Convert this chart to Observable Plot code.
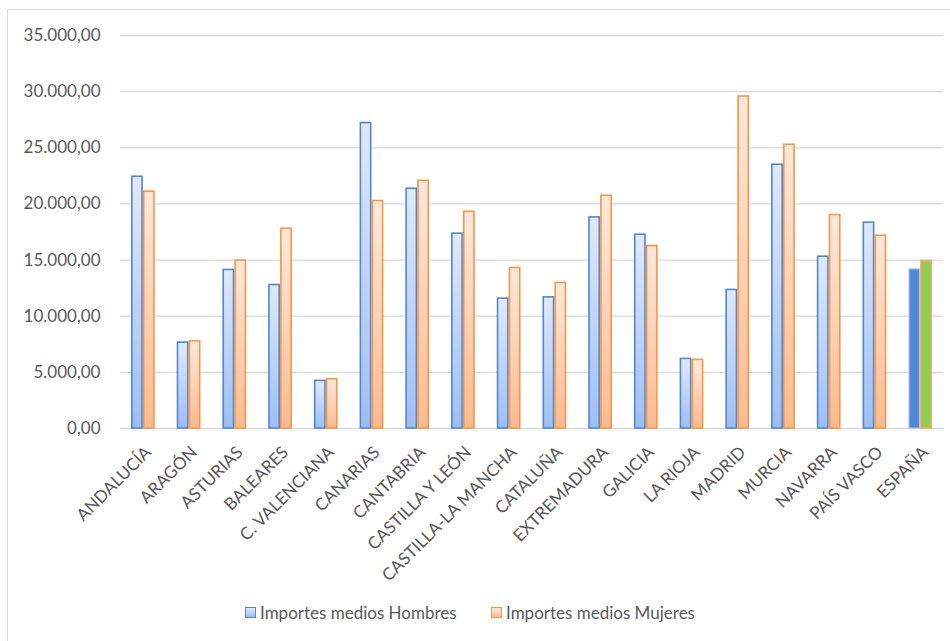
<!DOCTYPE html>
<html><head><meta charset="utf-8">
<script src="https://cdn.jsdelivr.net/npm/d3@7"></script>
<script src="https://cdn.jsdelivr.net/npm/@observablehq/plot@0.6"></script>
<style>
body{margin:0;background:#fff;overflow:hidden;font-family:Lato,sans-serif;}
#wrap{position:relative;width:950px;height:641px;overflow:hidden;}
#frame{position:absolute;left:7px;top:9px;width:1000px;height:700px;border:1.5px solid #d9d9d9;box-sizing:border-box;pointer-events:none;}
#chart{position:absolute;left:0;top:0;}
.item{position:absolute;top:602px;display:flex;align-items:center;font-size:17px;color:#595959;white-space:nowrap;}
.sw{width:9px;height:9px;margin-right:4px;border:1.5px solid;}
</style></head>
<body>
<div id="wrap">
  <div id="chart"></div>
  <div id="frame"></div>
  <div class="item" style="left:245px"><span class="sw" style="border-color:#4f86d6;background:linear-gradient(#e1e9fa,#9ebef2)"></span>Importes medios Hombres</div>
  <div class="item" style="left:491px"><span class="sw" style="border-color:#f79646;background:linear-gradient(#fee8dc,#fbbb90)"></span>Importes medios Mujeres</div>
</div>
<script>
const regiones = ["ANDALUCÍA","ARAGÓN","ASTURIAS","BALEARES","C. VALENCIANA","CANARIAS","CANTABRIA","CASTILLA Y LEÓN","CASTILLA-LA MANCHA","CATALUÑA","EXTREMADURA","GALICIA","LA RIOJA","MADRID","MURCIA","NAVARRA","PAÍS VASCO","ESPAÑA"];
const hombres = [22420,7650,14120,12780,4240,27200,21350,17350,11570,11680,18800,17260,6200,12340,23490,15300,18330,14170];
const mujeres = [21090,7770,14950,17790,4390,20260,22060,19300,14300,12960,20730,16250,6110,29570,25270,19010,17170,14920];
const yTicks = [0,5000,10000,15000,20000,25000,30000,35000];

const W = 950, ML = 120, MR = 7;
const pInner = 0.48, pOuter = 0.24;
const step = (W - ML - MR) / (regiones.length - pInner + 2 * pOuter);
const bw = step * (1 - pInner);
const half = bw / 2;

const rows = regiones.map((r, i) => ({region: r, h: hombres[i], m: mujeres[i]}));
const regs = rows.filter(d => d.region !== "ESPAÑA");
const esp = rows.filter(d => d.region === "ESPAÑA");

const locale = d3.formatLocale({decimal: ",", thousands: ".", grouping: [3], currency: ["", "€"]});
const fmt = locale.format(",.2f");

const svg = Plot.plot({
  width: W, height: 590,
  marginLeft: ML, marginRight: MR, marginTop: 35, marginBottom: 162,
  style: {color: "#595959", fontFamily: "Lato, sans-serif", background: "transparent"},
  x: {domain: regiones, paddingInner: pInner, paddingOuter: pOuter, round: false, axis: null},
  y: {domain: [0, 35000], axis: null},
  marks: [
    Plot.ruleY(yTicks, {stroke: "#d9d9d9", strokeWidth: 1.3}),
    Plot.barY(regs, {x: "region", y: "h", fill: "url(#gH)", stroke: "#4f86d6", strokeWidth: 1.6, insetLeft: 0.8, insetRight: half + 0.8}),
    Plot.barY(regs, {x: "region", y: "m", fill: "url(#gM)", stroke: "#f79646", strokeWidth: 1.6, insetLeft: half + 0.8, insetRight: 0.8}),
    Plot.barY(esp, {x: "region", y: "h", fill: "#4f88d4", stroke: "#a9c4ec", strokeWidth: 1, insetLeft: 0.75, insetRight: half + 0.75}),
    Plot.barY(esp, {x: "region", y: "m", fill: "#90cf4e", stroke: "#f5a86a", strokeWidth: 1.5, insetLeft: half + 0.75, insetRight: 0.75}),
    Plot.axisY({ticks: yTicks, tickSize: 0, tickPadding: 20, tickFormat: fmt, fontSize: 17, label: null}),
    Plot.axisX({tickRotate: -45, tickSize: 0, tickPadding: 21, dx: 5, fontSize: 17, label: null})
  ]
});

d3.select(svg).insert("defs", ":first-child").html(`
  <linearGradient id="gH" x1="0" y1="0" x2="0" y2="1">
    <stop offset="0" stop-color="#e1e9fa"/><stop offset="1" stop-color="#9ebef2"/>
  </linearGradient>
  <linearGradient id="gM" x1="0" y1="0" x2="0" y2="1">
    <stop offset="0" stop-color="#fee8dc"/><stop offset="1" stop-color="#fbbb90"/>
  </linearGradient>`);

document.getElementById("chart").appendChild(svg);
</script>
</body></html>
